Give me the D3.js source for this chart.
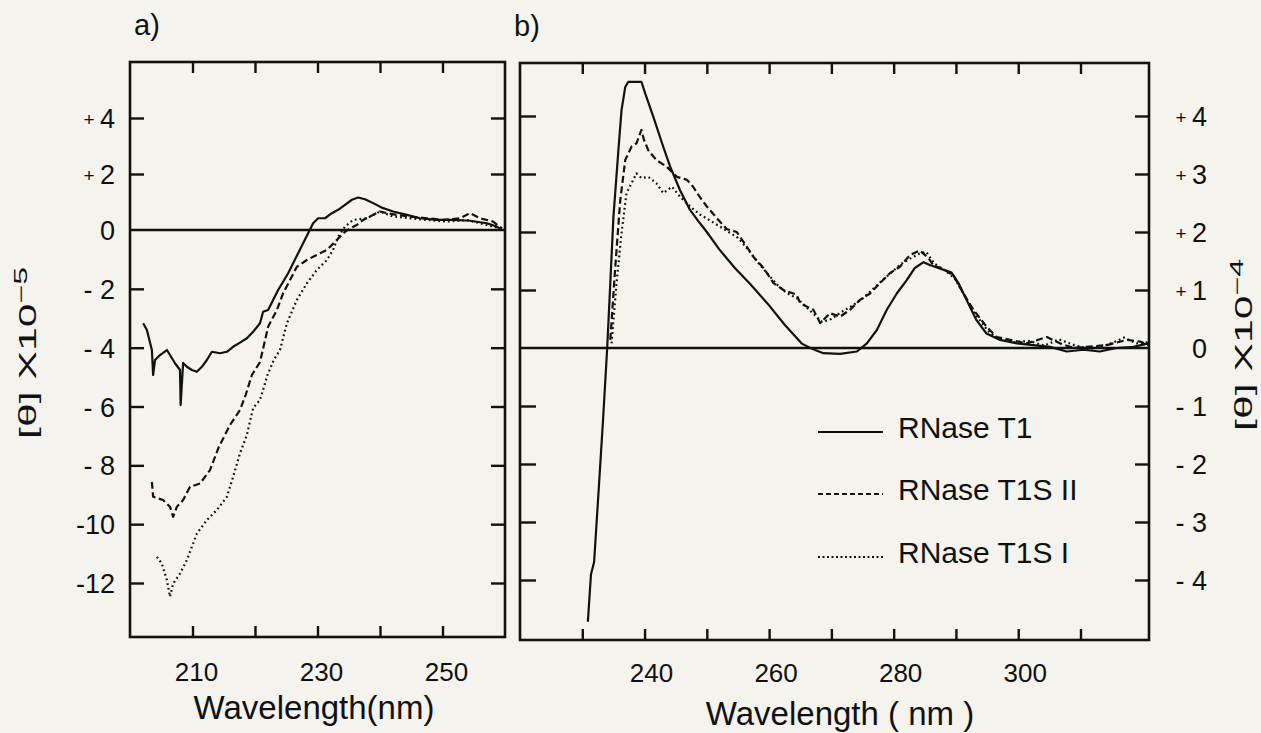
<!DOCTYPE html>
<html>
<head>
<meta charset="utf-8">
<script src="https://cdn.jsdelivr.net/npm/d3@7/dist/d3.min.js"></script>
<style>
body { margin: 0; background: #f4f3ee; }
text { font-family: "Liberation Sans", Arial, sans-serif; fill: #111; }
</style>
</head>
<body>
<div id="chart"></div>
<script>
// panel a) : [wavelength (nm), [theta] x10^-5]
var a_T1 = [[202.1,-3.17],[202.7,-3.40],[203.5,-4.08],[203.7,-4.93],[204.0,-4.42],[204.8,-4.25],[205.9,-4.08],
  [206.4,-4.25],[207.2,-4.53],[208.0,-4.76],[208.1,-5.95],[208.5,-4.52],[209.1,-4.65],[209.9,-4.76],[210.7,-4.82],
  [211.5,-4.65],[212.3,-4.42],[213.1,-4.14],[214.4,-4.19],[215.5,-4.14],[216.5,-3.97],[217.6,-3.83],[218.7,-3.68],
  [219.7,-3.46],[220.8,-3.17],[221.3,-2.78],[222.1,-2.72],[222.9,-2.38],[223.7,-2.04],[224.5,-1.76],[225.3,-1.47],
  [226.1,-1.13],[226.9,-0.79],[227.7,-0.45],[228.5,-0.11],[229.3,0.24],[230.1,0.42],[231.2,0.42],[232.3,0.60],
  [233.3,0.72],[234.4,0.90],[235.5,1.08],[236.5,1.16],[237.6,1.10],[238.9,0.96],[240.5,0.78],[242.1,0.66],
  [244.3,0.54],[246.4,0.42],[249.1,0.36],[251.7,0.36],[254.4,0.33],[257.1,0.24],[258.7,0.12],[259.5,0.0]];

var a_T1SII = [[203.5,-8.56],[203.7,-9.07],[205.3,-9.18],[206.4,-9.41],[206.9,-9.75],[207.5,-9.41],[208.5,-9.18],
  [209.6,-8.73],[211.2,-8.62],[212.8,-8.16],[214.2,-7.38],[216.0,-6.63],[217.6,-6.12],[218.5,-5.61],[219.5,-4.93],
  [220.8,-4.49],[222.1,-3.29],[223.5,-2.72],[224.5,-2.15],[225.6,-1.70],[226.7,-1.25],[228.3,-1.02],[229.3,-0.91],
  [230.4,-0.79],[231.5,-0.68],[233.1,-0.34],[234.1,-0.11],[235.2,0.06],[236.3,0.18],[237.3,0.36],[238.9,0.54],
  [240.0,0.66],[241.1,0.60],[242.7,0.54],[244.8,0.48],[247.5,0.42],[250.1,0.36],[252.8,0.42],[254.4,0.60],
  [256.0,0.42],[258.1,0.30],[259.5,0.06]];

var a_T1SI = [[204.3,-11.11],[205.1,-11.34],[205.9,-11.90],[206.4,-12.47],[206.9,-12.02],[208.0,-11.68],[209.1,-11.22],
  [210.7,-10.32],[212.3,-9.86],[213.9,-9.52],[215.5,-9.07],[216.5,-8.39],[217.6,-7.59],[218.7,-6.97],[219.7,-6.05],
  [220.8,-5.78],[222.0,-4.93],[223.0,-4.42],[224.0,-4.08],[225.1,-3.17],[226.7,-2.38],[228.3,-1.81],[229.9,-1.36],
  [231.5,-1.02],[232.5,-0.68],[233.3,-0.23],[234.4,0.12],[235.7,0.36],[237.9,0.42],[240.0,0.66],[242.1,0.48],
  [244.8,0.42],[247.5,0.36],[250.7,0.30],[253.9,0.36],[257.1,0.18],[259.2,0.06]];

// panel b) : [wavelength (nm), [theta] x10^-4]
var b_T1 = [[230.9,-4.72],[231.2,-4.22],[231.4,-3.9],[231.9,-3.69],[232.6,-2.5],[233.3,-1.3],[234.0,0],[234.5,1.12],
  [235.0,2.26],[235.8,3.41],[236.3,4.10],[236.9,4.50],[237.4,4.59],[239.5,4.59],[240.1,4.39],[241.4,3.99],
  [243.0,3.47],[244.1,3.13],[245.7,2.72],[247.3,2.38],[248.9,2.15],[250.0,2.0],[252.0,1.7],[254.5,1.38],
  [257.0,1.1],[259.8,0.76],[262.5,0.4],[265.2,0.08],[266.6,0.0],[268.7,-0.09],[271.4,-0.1],[274.1,-0.06],
  [275.7,0.08],[277.3,0.31],[278.9,0.66],[280.5,0.94],[282.1,1.17],[283.4,1.38],[284.8,1.48],[285.8,1.43],
  [287.4,1.37],[289.3,1.3],[290.4,1.12],[291.7,0.83],[293.3,0.48],[294.9,0.25],[297.1,0.14],[299.8,0.08],
  [302.4,0.05],[305.1,0.02],[307.8,-0.06],[310.5,-0.03],[313.1,-0.06],[315.8,0],[318.5,0.02],[320.9,0.08]];

var b_T1SII = [[234.5,0.14],[235.3,1.40],[236.1,2.55],[236.9,3.24],[237.9,3.47],[238.7,3.53],[239.5,3.76],
  [239.9,3.59],[240.6,3.41],[241.9,3.24],[243.5,3.13],[245.2,2.95],[246.8,2.90],[247.8,2.78],[248.9,2.6],
  [250.0,2.44],[251.6,2.24],[253.2,2.05],[254.8,2.0],[256.4,1.75],[257.5,1.57],[259.1,1.38],[260.7,1.12],
  [262.3,1.0],[264.4,0.92],[265.0,0.77],[267.1,0.66],[268.2,0.43],[269.8,0.6],[271.4,0.54],[273.0,0.66],
  [274.6,0.83],[276.2,0.94],[277.8,1.12],[279.4,1.29],[281.0,1.40],[282.6,1.60],[284.2,1.68],[285.6,1.55],
  [286.4,1.42],[288.0,1.36],[289.6,1.25],[291.2,0.94],[292.8,0.66],[294.9,0.37],[296.5,0.19],[298.7,0.14],
  [301.4,0.08],[304.6,0.19],[306.7,0.08],[308.9,0.0],[311.0,0.02],[314.2,0.05],[317.5,0.14],[319.6,0.11],[320.9,0.05]];

var b_T1SI = [[234.7,0.08],[235.5,1.12],[236.3,1.98],[237.1,2.67],[237.9,2.84],[238.7,3.01],[239.5,2.93],
  [240.6,2.95],[241.9,2.84],[243.0,2.67],[244.4,2.78],[245.7,2.61],[247.3,2.44],[248.9,2.3],[250.5,2.2],
  [252.0,2.1],[253.5,2.0],[255.0,1.9],[256.6,1.7],[258.0,1.5],[259.6,1.3],[261.2,1.1],[262.8,0.95],[264.6,0.85],
  [266.0,0.7],[267.5,0.55],[268.5,0.45],[270.0,0.5],[271.6,0.62],[273.2,0.72],[275.0,0.85],[276.5,1.0],
  [278.0,1.15],[279.6,1.3],[281.2,1.45],[282.8,1.55],[284.0,1.62],[285.2,1.66],[286.6,1.45],[288.2,1.34],
  [289.8,1.2],[291.4,0.9],[293.0,0.6],[295.1,0.3],[296.8,0.15],[299.0,0.1],[301.8,0.12],[304.2,0.04],
  [306.5,0.15],[309.0,0.05],[311.5,-0.02],[314.5,0.06],[317.0,0.18],[319.0,0.08],[320.9,0.1]];

// ticks and labels
var aXTicks = [210, 220, 230, 240, 250];
var aXLabels = [210, 230, 250];
var aYTicks = [4, 2, -2, -4, -6, -8, -10, -12];
var aYLabels = [[4,'+','4'],[2,'+','2'],[0,'','0'],[-2,'','- 2'],[-4,'','- 4'],[-6,'','- 6'],[-8,'','- 8'],[-10,'','-10'],[-12,'','-12']];
var bXTicks = [230, 240, 250, 260, 270, 280, 290, 300, 310];
var bXLabels = [240, 260, 280, 300];
var bYTicks = [4, 3, 2, 1, -1, -2, -3, -4];
var bYLabels = [[4,'+','4'],[3,'+','3'],[2,'+','2'],[1,'+','1'],[0,'','0'],[-1,'','- 1'],[-2,'','- 2'],[-3,'','- 3'],[-4,'','- 4']];
var legendNames = ['RNase T1', 'RNase T1S II', 'RNase T1S I'];
var dashes = ['none', '7,3.5', '1.8,3'];
var legendDashes = ['none', '5,3', '2,2.5'];

var ink = '#111';

var svg = d3.select('#chart')
  .append('svg')
  .attr('width', 1261)
  .attr('height', 733);

svg.append('rect')
  .attr('width', 1261)
  .attr('height', 733)
  .attr('fill', '#f4f3ee');

// panel frames
var pa = {left: 130, right: 505, top: 62, bottom: 637};
var pb = {left: 520, right: 1149, top: 63, bottom: 640};

var xa = d3.scaleLinear().domain([200, 260]).range([pa.left, pa.right]);
var ya = d3.scaleLinear().domain([4, 0, -12]).range([118, 230, 583]);
var xb = d3.scaleLinear().domain([220, 321]).range([pb.left, pb.right]);
var yb = d3.scaleLinear().domain([4, 0, -4]).range([116, 348, 580]);

function frame(p) {
  svg.append('rect')
    .attr('x', p.left).attr('y', p.top)
    .attr('width', p.right - p.left).attr('height', p.bottom - p.top)
    .attr('fill', 'none').attr('stroke', ink).attr('stroke-width', 2.6);
}
frame(pa);
frame(pb);

function ticks(axis, tx, ty) {
  svg.append('g')
    .attr('transform', 'translate(' + tx + ',' + ty + ')')
    .attr('color', ink)
    .call(axis)
    .call(function (g) {
      g.select('.domain').remove();
      g.selectAll('.tick line').attr('stroke-width', 2.4);
    });
}

ticks(d3.axisBottom(xa).tickValues(aXTicks).tickSize(-11).tickFormat(''), 0, pa.bottom);
ticks(d3.axisTop(xa).tickValues(aXTicks).tickSize(-11).tickFormat(''), 0, pa.top);
ticks(d3.axisLeft(ya).tickValues(aYTicks).tickSize(-14).tickFormat(''), pa.left, 0);
ticks(d3.axisRight(ya).tickValues(aYTicks).tickSize(-14).tickFormat(''), pa.right, 0);

ticks(d3.axisBottom(xb).tickValues(bXTicks).tickSize(-11).tickFormat(''), 0, pb.bottom);
ticks(d3.axisTop(xb).tickValues(bXTicks).tickSize(-11).tickFormat(''), 0, pb.top);
ticks(d3.axisLeft(yb).tickValues(bYTicks).tickSize(-16).tickFormat(''), pb.left, 0);
ticks(d3.axisRight(yb).tickValues(bYTicks).tickSize(-14).tickFormat(''), pb.right, 0);

// zero lines
svg.append('line')
  .attr('x1', pa.left).attr('x2', pa.right)
  .attr('y1', ya(0)).attr('y2', ya(0))
  .attr('stroke', ink).attr('stroke-width', 2.4);
svg.append('line')
  .attr('x1', pb.left).attr('x2', pb.right)
  .attr('y1', yb(0)).attr('y2', yb(0))
  .attr('stroke', ink).attr('stroke-width', 2.4);

// curves
var lineA = d3.line().x(function (d) { return xa(d[0]); }).y(function (d) { return ya(d[1]); });
var lineB = d3.line().x(function (d) { return xb(d[0]); }).y(function (d) { return yb(d[1]); });

[a_T1, a_T1SII, a_T1SI].forEach(function (s, i) {
  svg.append('path').datum(s)
    .attr('d', lineA)
    .attr('fill', 'none').attr('stroke', ink)
    .attr('stroke-width', 2.2).attr('stroke-dasharray', dashes[i])
    .attr('stroke-linejoin', 'round');
});
[b_T1, b_T1SII, b_T1SI].forEach(function (s, i) {
  svg.append('path').datum(s)
    .attr('d', lineB)
    .attr('fill', 'none').attr('stroke', ink)
    .attr('stroke-width', 2.2).attr('stroke-dasharray', dashes[i])
    .attr('stroke-linejoin', 'round');
});

// x tick labels
svg.selectAll('.xla').data(aXLabels).enter().append('text')
  .attr('x', function (d) { return xa(d) + 4; })
  .attr('y', 681)
  .attr('text-anchor', 'middle')
  .attr('font-size', 26)
  .text(function (d) { return d; });
svg.selectAll('.xlb').data(bXLabels).enter().append('text')
  .attr('x', function (d) { return xb(d) + 7; })
  .attr('y', 682)
  .attr('text-anchor', 'middle')
  .attr('font-size', 26)
  .text(function (d) { return d; });

// y tick labels
function yLabel(d, x, y) {
  var t = svg.append('text')
    .attr('x', x).attr('y', y)
    .attr('text-anchor', 'end')
    .attr('font-size', 27);
  if (d[1]) t.append('tspan').attr('font-size', 19).attr('dy', -2).text(d[1] + ' ');
  t.append('tspan').attr('dy', d[1] ? 2 : 0).text(d[2]);
}
aYLabels.forEach(function (d) { yLabel(d, 115, ya(d[0]) + 10); });
bYLabels.forEach(function (d) { yLabel(d, 1207, yb(d[0]) + 10); });

// axis titles
svg.append('text')
  .attr('x', 314).attr('y', 719)
  .attr('text-anchor', 'middle')
  .attr('font-size', 33)
  .text('Wavelength(nm)');
svg.append('text')
  .attr('x', 840).attr('y', 725)
  .attr('text-anchor', 'middle')
  .attr('font-size', 33)
  .text('Wavelength ( nm )');

function yTitle(x, y, pow) {
  var t = svg.append('text')
    .attr('transform', 'translate(' + x + ',' + y + ') rotate(-90)')
    .attr('text-anchor', 'middle')
    .attr('font-size', 24)
    .attr('textLength', 172)
    .attr('lengthAdjust', 'spacingAndGlyphs');
  t.append('tspan').text('[\u03b8] X10');
  t.append('tspan').attr('font-size', 18).attr('dy', -9).text('\u2212' + pow);
}
yTitle(36, 353, 5);
yTitle(1252, 345, 4);

// panel letters
svg.append('text').attr('x', 134).attr('y', 35).attr('font-size', 29).text('a)');
svg.append('text').attr('x', 514).attr('y', 36).attr('font-size', 29).text('b)');

// legend
var legendY = [438, 500, 563];
legendNames.forEach(function (name, i) {
  svg.append('line')
    .attr('x1', 818).attr('x2', 883)
    .attr('y1', legendY[i] - 6).attr('y2', legendY[i] - 6)
    .attr('stroke', ink).attr('stroke-width', 2.2)
    .attr('stroke-dasharray', legendDashes[i]);
  svg.append('text')
    .attr('x', 898).attr('y', legendY[i])
    .attr('font-size', 30)
    .text(name);
});
</script>
</body>
</html>
